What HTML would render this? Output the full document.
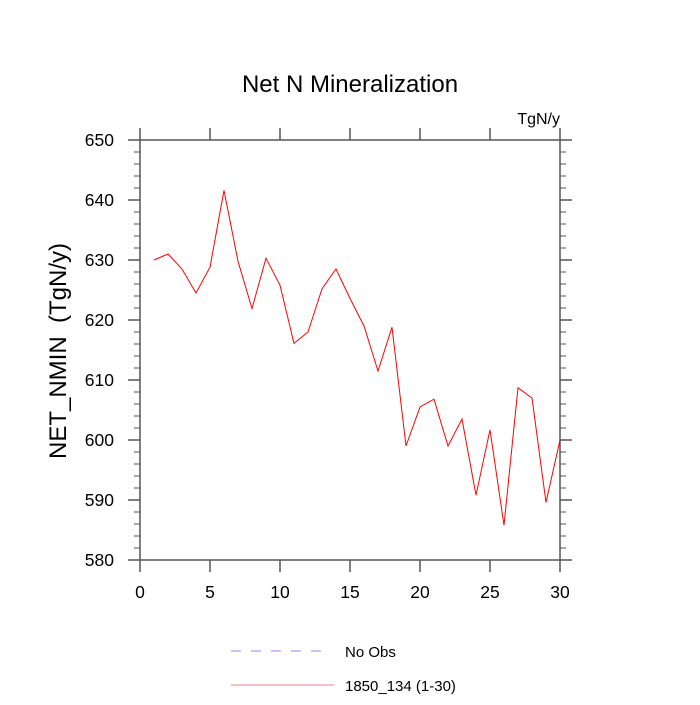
<!DOCTYPE html>
<html><head><meta charset="utf-8"><style>
body{margin:0;background:#fff}
text{font-family:"Liberation Sans",sans-serif;fill:#000}
</style></head><body>
<svg id="chart" width="700" height="700" xmlns="http://www.w3.org/2000/svg">
<rect width="700" height="700" fill="#fff"/>
<text x="350" y="92" font-size="24" text-anchor="middle">Net N Mineralization</text>
<text x="560" y="124" font-size="16" text-anchor="end">TgN/y</text>
<text transform="translate(66,351) rotate(-90)" font-size="24" text-anchor="middle">NET_NMIN&#160; (TgN/y)</text>
<g id="axes"></g>
<polyline id="series" fill="none" stroke="#ff0000" stroke-width="1"/>
<line x1="231" y1="651" x2="330" y2="651" stroke="#8888ff" stroke-width="1" stroke-dasharray="10,10"/>
<text x="345" y="657" font-size="15">No Obs</text>
<line x1="231" y1="685" x2="334" y2="685" stroke="#f08080" stroke-width="1"/>
<text x="345" y="691" font-size="15">1850_134 (1-30)</text>
</svg>
<script>
const xValues=[1,2,3,4,5,6,7,8,9,10,11,12,13,14,15,16,17,18,19,20,21,22,23,24,25,26,27,28,29,30];
const nminValues=[630,631,628.5,624.5,628.8,641.6,629.8,621.9,630.3,625.8,616.1,618,625.2,628.5,623.6,619,611.5,618.8,599,605.5,606.8,599,603.5,590.8,601.7,585.8,608.7,607,589.6,600];
const xTicks=[0,5,10,15,20,25,30];
const yTicks=[580,590,600,610,620,630,640,650];
const L=140,R=560,T=140,B=560;
const sx=v=>L+(v-0)/30*(R-L);
const sy=v=>B-(v-580)/70*(B-T);
const NS="http://www.w3.org/2000/svg";
const ax=document.getElementById('axes');
function ln(x1,y1,x2,y2,w,n){const e=document.createElementNS(NS,'line');
e.setAttribute('x1',x1);e.setAttribute('y1',y1);e.setAttribute('x2',x2);e.setAttribute('y2',y2);
e.setAttribute('stroke','#555');e.setAttribute('stroke-width',w);


ax.appendChild(e);}
function tx(x,y,s,a,n){const e=document.createElementNS(NS,'text');
e.setAttribute('x',x);e.setAttribute('y',y);e.setAttribute('font-size','17.5');e.setAttribute('text-anchor',a);e.textContent=s;


ax.appendChild(e);}
const fr=document.createElementNS(NS,'rect');
fr.setAttribute('x',L);fr.setAttribute('y',T);fr.setAttribute('width',R-L);fr.setAttribute('height',B-T);
fr.setAttribute('fill','none');fr.setAttribute('stroke','#555');fr.setAttribute('stroke-width','1.5');


ax.appendChild(fr);
xTicks.forEach(v=>{const x=sx(v);ln(x,B,x,B+12,1.5,'x-tick');ln(x,T,x,T-12,1.5,'x-tick-top');tx(x,B+38,String(v),'middle','x-tick-label');});
for(let v=580;v<=650;v+=2){const y=sy(v);const m=(v%10===0);const len=m?12:6;
ln(L,y,L-len,y,m?1.5:1,'y-tick');ln(R,y,R+len,y,m?1.5:1,'y-tick-right');}
yTicks.forEach(v=>tx(L-26,sy(v)+6,String(v),'end','y-tick-label'));
document.getElementById('series').setAttribute('points',xValues.map((x,i)=>sx(x)+','+sy(nminValues[i])).join(' '));
</script>
</body></html>
